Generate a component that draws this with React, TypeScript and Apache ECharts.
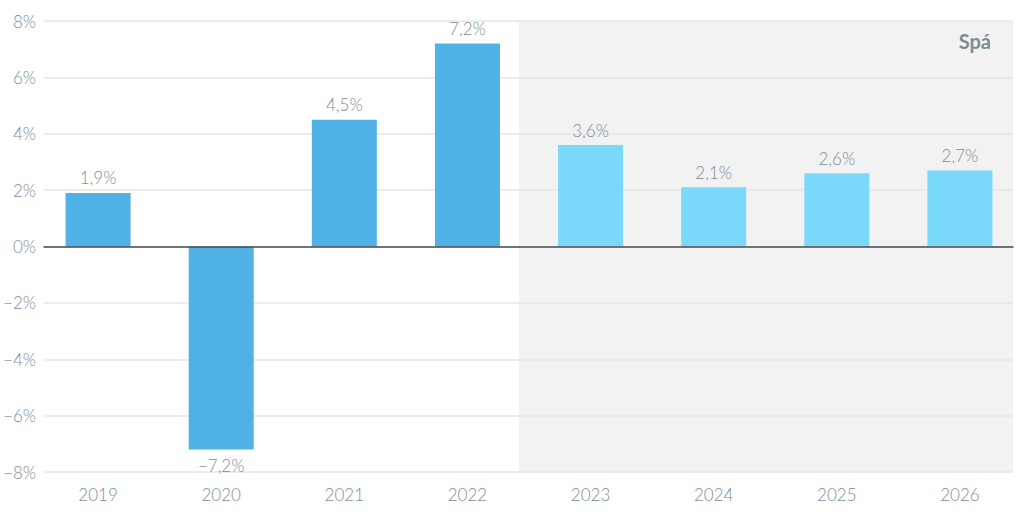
import React, { useEffect, useRef } from "react";
import * as echarts from "echarts";

const years = ["2019", "2020", "2021", "2022", "2023", "2024", "2025", "2026"];
const growth = [1.9, -7.2, 4.5, 7.2, 3.6, 2.1, 2.6, 2.7];
const isForecast = [false, false, false, false, true, true, true, true];
const forecastLabel = "Spá";

const ACTUAL = "#4FB1E6";
const FORECAST = "#7AD8FA";
const TEXT = "#7E8E96";

function fmt(v: number): string {
  const s = Math.abs(v).toFixed(1).replace(".", ",");
  return (v < 0 ? "\u2212" : "") + s + "%";
}

export default function App() {
  const ref = useRef<HTMLDivElement>(null);
  useEffect(() => {
    if (!ref.current) return;
    const chart = echarts.init(ref.current, null, { renderer: "svg" });
    chart.setOption({
      animation: false,
      textStyle: { fontFamily: "Lato" },
      grid: [
        { left: 36.5, right: 2.5, top: 21, bottom: 49, containLabel: false },
        { left: 44, right: 11, top: 21, bottom: 49, containLabel: false },
      ],
      graphic: [
        {
          type: "rect",
          z: -10,
          silent: true,
          shape: { x: 519, y: 21, width: 494, height: 451 },
          style: { fill: "#F2F2F2" },
        },
        {
          type: "text",
          z: 10,
          right: 33,
          top: 31,
          style: {
            text: forecastLabel,
            fill: "#7C8C94",
            font: "bold 20px Lato",
          },
        },
      ],
      xAxis: [
        {
          type: "category",
          gridIndex: 0,
          data: years,
          axisLine: { show: false },
          axisTick: { show: false },
          axisLabel: {
            show: true,
            color: TEXT,
            fontSize: 17,
            fontWeight: 300,
            fontFamily: "Lato",
            margin: 14,
          },
        },
        {
          type: "category",
          gridIndex: 1,
          data: years,
          axisLine: { onZero: true, lineStyle: { color: "#4A4A4A", width: 1.5 } },
          axisTick: { show: false },
          axisLabel: { show: false },
          z: 5,
        },
      ],
      yAxis: [
        {
          type: "value",
          gridIndex: 0,
          min: -8,
          max: 8,
          interval: 2,
          show: false,
        },
        {
          type: "value",
          gridIndex: 1,
          min: -8,
          max: 8,
          interval: 2,
          axisLine: { show: false },
          axisTick: { show: false },
          splitLine: { lineStyle: { color: "#E6E6E6", width: 1.5 } },
          axisLabel: {
            color: TEXT,
            fontSize: 17,
            fontWeight: 300,
            fontFamily: "Lato",
            margin: 8,
            formatter: (v: number) => (v < 0 ? "\u2212" + Math.abs(v) : v) + "%",
          },
        },
      ],
      series: [
        {
          type: "bar",
          xAxisIndex: 0,
          yAxisIndex: 0,
          barWidth: 65,
          z: 3,
          data: growth.map((v, i) => ({
            value: v,
            itemStyle: { color: isForecast[i] ? FORECAST : ACTUAL },
            label: { position: v < 0 ? "bottom" : "top", distance: v < 0 ? 8 : 6.5 },
          })),
          label: {
            show: true,
            color: TEXT,
            fontSize: 17,
            fontWeight: 300,
            fontFamily: "Lato",
            formatter: (p: any) => fmt(p.value),
          },
        },
      ],
    });
    return () => chart.dispose();
  }, []);
  return <div ref={ref} style={{ width: 1024, height: 521, position: "absolute", left: 0, top: 0 }} />;
}
